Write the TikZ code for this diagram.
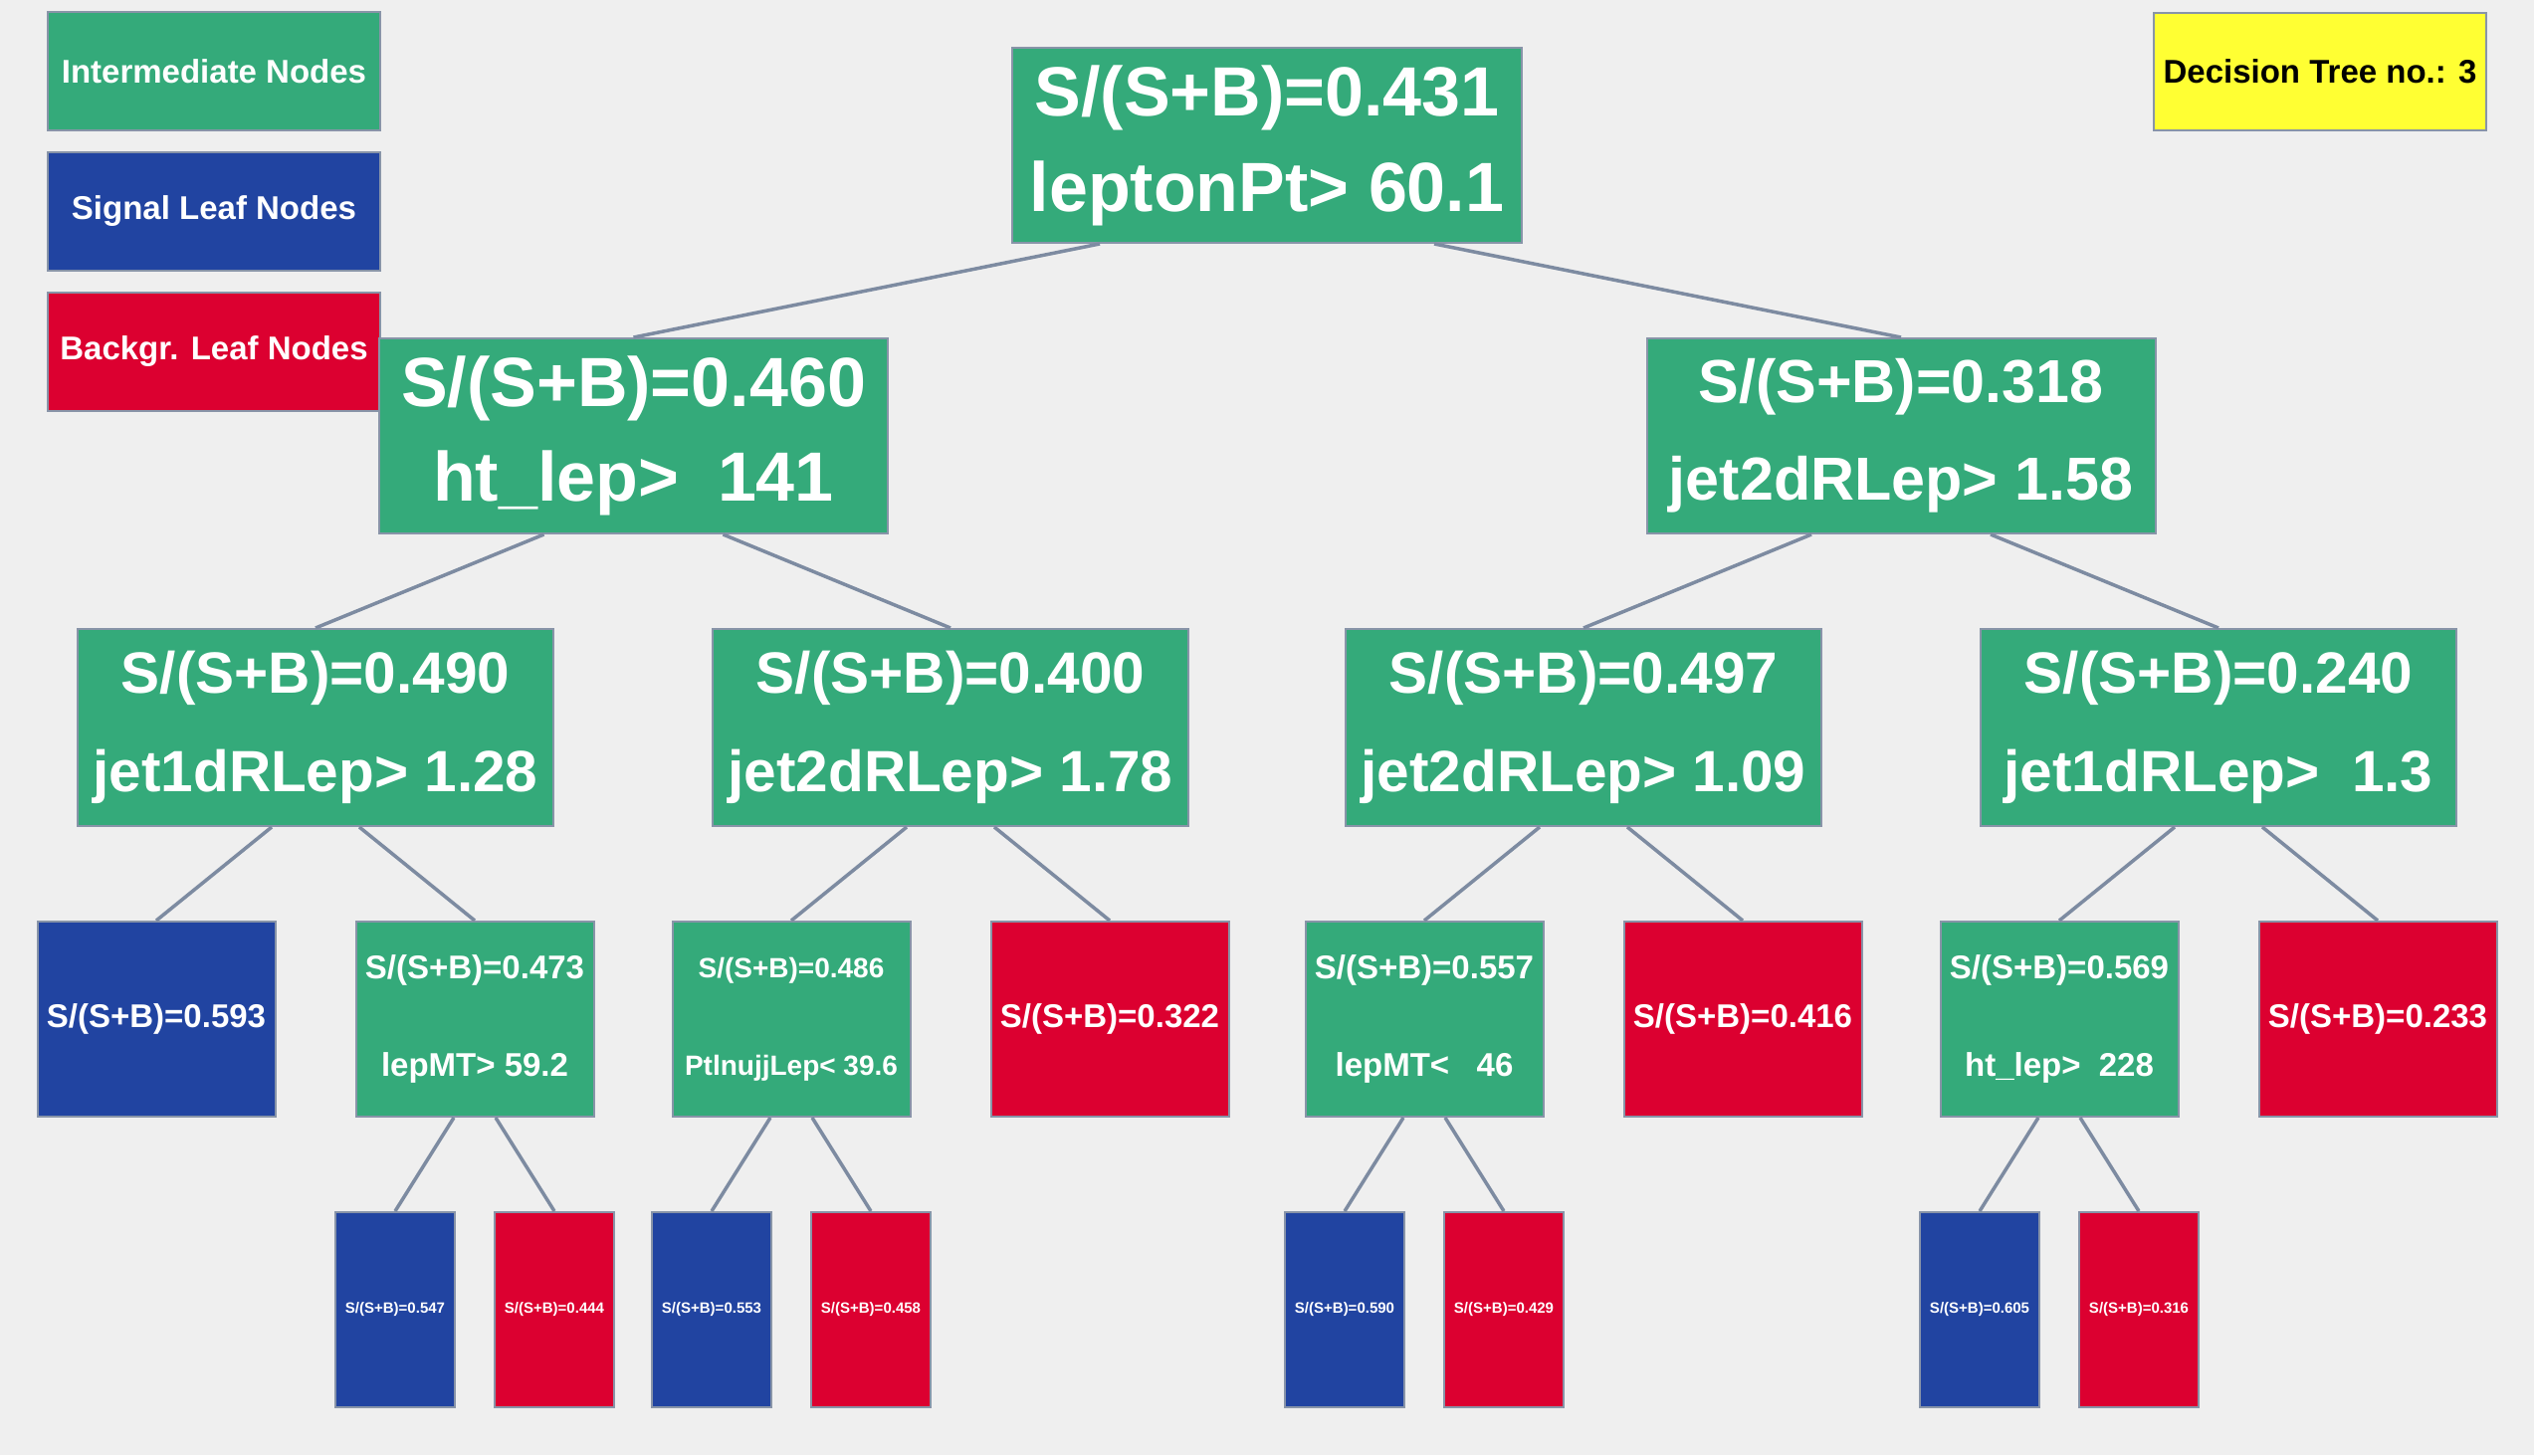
\documentclass[tikz,border=0pt]{standalone}
\usepackage{fontspec}
\setmainfont{Liberation Sans}
\definecolor{bgc}{HTML}{EFEFEF}
\definecolor{interc}{HTML}{34AA7A}
\definecolor{sigc}{HTML}{2144A1}
\definecolor{bkgc}{HTML}{DC0030}
\definecolor{yelc}{HTML}{FFFF33}
\definecolor{bordc}{HTML}{8894A8}
\definecolor{edgec}{HTML}{7D8BA1}
\newcommand\setfs[2]{\fontsize{#1}{#2}\selectfont}
\begin{document}
\begin{tikzpicture}[x=1pt,y=-1pt,
  box/.style={rectangle,draw=bordc,line width=2pt,inner sep=0pt,text=white,align=center},
  inter/.style={box,fill=interc},
  sig/.style={box,fill=sigc},
  bkg/.style={box,fill=bkgc},
  legbox/.style={minimum width=334pt,minimum height=119pt,font=\bfseries\setfs{33}{38}},
  lzero/.style={minimum width=512pt,minimum height=196pt,font=\bfseries\setfs{70}{96}},
  lone/.style={minimum width=511pt,minimum height=196pt},
  ltwo/.style={minimum width=478pt,minimum height=198pt,font=\bfseries\setfs{58.5}{99}},
  lthree/.style={minimum width=239pt,minimum height=196pt},
  lfour/.style={minimum width=120pt,minimum height=196pt,font=\bfseries\setfs{15}{18}},
  edge/.style={draw=edgec,line width=3.5pt}
]
\fill[bgc] (0,0) rectangle (2546,1462);
\useasboundingbox (0,0) rectangle (2546,1462);

% legend
\node[inter,legbox] (legI) at (215,71.5) {Intermediate Nodes};
\node[sig,legbox] (legS) at (215,212.5) {Signal Leaf Nodes};
\node[bkg,legbox] (legB) at (215,353) {Backgr. Leaf Nodes};
\node[box,legbox,fill=yelc,text=black,minimum height=118pt] (dt) at (2331,72) {Decision Tree no.: 3};

% level 0
\node[inter,lzero] (root) at (1273,146) {S/(S+B)=0.431\\leptonPt> 60.1};
% level 1
\node[inter,lone,font=\bfseries\setfs{70}{95}] (a) at (636.5,438) {S/(S+B)=0.460\\ht\_lep>\ \ 141};
\node[inter,lone,font=\bfseries\setfs{61}{98}] (b) at (1910,438) {S/(S+B)=0.318\\jet2dRLep> 1.58};
% level 2
\node[inter,ltwo] (aa) at (317,731) {S/(S+B)=0.490\\jet1dRLep> 1.28};
\node[inter,ltwo] (ab) at (955,731) {S/(S+B)=0.400\\jet2dRLep> 1.78};
\node[inter,ltwo] (ba) at (1591,731) {S/(S+B)=0.497\\jet2dRLep> 1.09};
\node[inter,ltwo] (bb) at (2229,731) {S/(S+B)=0.240\\jet1dRLep>\ \ 1.3};
% level 3
\node[sig,lthree,font=\bfseries\setfs{33}{40}] (aaa) at (157,1024) {S/(S+B)=0.593};
\node[inter,lthree,font=\bfseries\setfs{33}{98}] (aab) at (477,1024) {S/(S+B)=0.473\\lepMT> 59.2};
\node[inter,lthree,font=\bfseries\setfs{28}{98}] (aba) at (795,1024) {S/(S+B)=0.486\\PtlnujjLep< 39.6};
\node[bkg,lthree,font=\bfseries\setfs{33}{40}] (abb) at (1115,1024) {S/(S+B)=0.322};
\node[inter,lthree,font=\bfseries\setfs{33}{98}] (baa) at (1431,1024) {S/(S+B)=0.557\\lepMT<\ \ \ 46};
\node[bkg,lthree,font=\bfseries\setfs{33}{40}] (bab) at (1751,1024) {S/(S+B)=0.416};
\node[inter,lthree,font=\bfseries\setfs{33}{98}] (bba) at (2069,1024) {S/(S+B)=0.569\\ht\_lep>\ \ 228};
\node[bkg,lthree,font=\bfseries\setfs{33}{40}] (bbb) at (2389,1024) {S/(S+B)=0.233};
% level 4
\node[sig,lfour] (aaba) at (397,1316) {S/(S+B)=0.547};
\node[bkg,lfour] (aabb) at (557,1316) {S/(S+B)=0.444};
\node[sig,lfour] (abaa) at (715,1316) {S/(S+B)=0.553};
\node[bkg,lfour] (abab) at (875,1316) {S/(S+B)=0.458};
\node[sig,lfour] (baaa) at (1351,1316) {S/(S+B)=0.590};
\node[bkg,lfour] (baab) at (1511,1316) {S/(S+B)=0.429};
\node[sig,lfour] (bbaa) at (1989,1316) {S/(S+B)=0.605};
\node[bkg,lfour] (bbab) at (2149,1316) {S/(S+B)=0.316};

% edges
\draw[edge] ([xshift=-168pt]root.south) -- (a.north);
\draw[edge] ([xshift=168pt]root.south) -- (b.north);
\draw[edge] ([xshift=-90pt]a.south) -- (aa.north);
\draw[edge] ([xshift=90pt]a.south) -- (ab.north);
\draw[edge] ([xshift=-90pt]b.south) -- (ba.north);
\draw[edge] ([xshift=90pt]b.south) -- (bb.north);
\draw[edge] ([xshift=-44pt]aa.south) -- (aaa.north);
\draw[edge] ([xshift=44pt]aa.south) -- (aab.north);
\draw[edge] ([xshift=-44pt]ab.south) -- (aba.north);
\draw[edge] ([xshift=44pt]ab.south) -- (abb.north);
\draw[edge] ([xshift=-44pt]ba.south) -- (baa.north);
\draw[edge] ([xshift=44pt]ba.south) -- (bab.north);
\draw[edge] ([xshift=-44pt]bb.south) -- (bba.north);
\draw[edge] ([xshift=44pt]bb.south) -- (bbb.north);
\draw[edge] ([xshift=-21pt]aab.south) -- (aaba.north);
\draw[edge] ([xshift=21pt]aab.south) -- (aabb.north);
\draw[edge] ([xshift=-21pt]aba.south) -- (abaa.north);
\draw[edge] ([xshift=21pt]aba.south) -- (abab.north);
\draw[edge] ([xshift=-21pt]baa.south) -- (baaa.north);
\draw[edge] ([xshift=21pt]baa.south) -- (baab.north);
\draw[edge] ([xshift=-21pt]bba.south) -- (bbaa.north);
\draw[edge] ([xshift=21pt]bba.south) -- (bbab.north);
\end{tikzpicture}
\end{document}
